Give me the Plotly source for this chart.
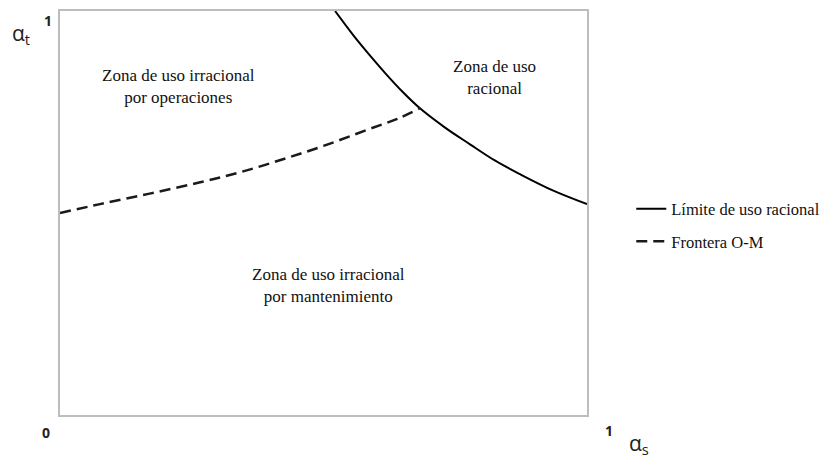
import plotly.graph_objects as go

# Límite de uso racional (solid)
lim_x = [0.522, 0.556, 0.590, 0.620, 0.650, 0.683, 0.730, 0.778, 0.825, 0.873, 0.935, 1.000]
lim_y = [1.000, 0.941, 0.887, 0.842, 0.800, 0.759, 0.712, 0.670, 0.630, 0.596, 0.556, 0.522]

# Frontera O-M (dashed)
fr_x = [0.000, 0.076, 0.170, 0.266, 0.342, 0.423, 0.500, 0.583, 0.640, 0.684]
fr_y = [0.500, 0.522, 0.548, 0.576, 0.601, 0.633, 0.666, 0.706, 0.733, 0.760]

zone_text = ["Zona de uso irracional<br>por operaciones",
             "Zona de uso<br>racional",
             "Zona de uso irracional<br>por mantenimiento"]
zone_x = [0.224, 0.825, 0.510]
zone_y = [0.813, 0.835, 0.320]

serif = "Liberation Serif"
sans = "Open Sans"

fig = go.Figure()
fig.add_trace(go.Scatter(x=lim_x, y=lim_y, mode="lines", name="Límite de uso racional",
                         line=dict(color="black", width=2, shape="spline"),
                         legendgroup="a", cliponaxis=False))
fig.add_trace(go.Scatter(x=fr_x, y=fr_y, mode="lines", name="Frontera O-M",
                         line=dict(color="#1a1a1a", width=2.5, dash="11px,6px", shape="spline"),
                         legendgroup="b", cliponaxis=False))

for t, x, y in zip(zone_text, zone_x, zone_y):
    fig.add_annotation(x=x, y=y, text=t, showarrow=False, xref="x", yref="y",
                       font=dict(family=serif, size=17, color="#111"), align="center")

# axis end labels
fig.add_annotation(x=0, y=1, xref="paper", yref="paper", text="<b>1</b>", showarrow=False,
                   xanchor="right", yanchor="top", xshift=-6, yshift=2,
                   font=dict(family=sans, size=14, color="#222"))
fig.add_annotation(x=0, y=0, xref="paper", yref="paper", text="<b>0</b>", showarrow=False,
                   xanchor="right", yanchor="top", xshift=-8, yshift=-6,
                   font=dict(family=sans, size=14, color="#222"))
fig.add_annotation(x=1, y=0, xref="paper", yref="paper", text="<b>1</b>", showarrow=False,
                   xanchor="left", yanchor="top", xshift=16, yshift=-4,
                   font=dict(family=sans, size=14, color="#222"))
fig.add_annotation(x=0, y=1, xref="paper", yref="paper", text="α<sub>t</sub>", showarrow=False,
                   xanchor="right", yanchor="top", xshift=-28, yshift=-6,
                   font=dict(family=sans, size=21, color="#222"))
fig.add_annotation(x=1, y=0, xref="paper", yref="paper", text="α<sub>s</sub>", showarrow=False,
                   xanchor="left", yanchor="top", xshift=40, yshift=-12,
                   font=dict(family=sans, size=21, color="#222"))

fig.update_xaxes(range=[0, 1], showgrid=False, zeroline=False, showticklabels=False,
                 showline=True, linecolor="#bdbdbd", linewidth=1.5, mirror=True, ticks="")
fig.update_yaxes(range=[0, 1], showgrid=False, zeroline=False, showticklabels=False,
                 showline=True, linecolor="#bdbdbd", linewidth=1.5, mirror=True, ticks="")

fig.update_layout(
    width=829, height=451,
    margin=dict(l=52, r=250, t=1, b=44),
    plot_bgcolor="white", paper_bgcolor="white",
    showlegend=True,
    legend=dict(x=1.084, y=0.47, xanchor="left", yanchor="middle",
                font=dict(family=serif, size=16.5, color="#111"),
                tracegroupgap=8, bgcolor="rgba(0,0,0,0)"),
)

fig.write_html("out.html")
